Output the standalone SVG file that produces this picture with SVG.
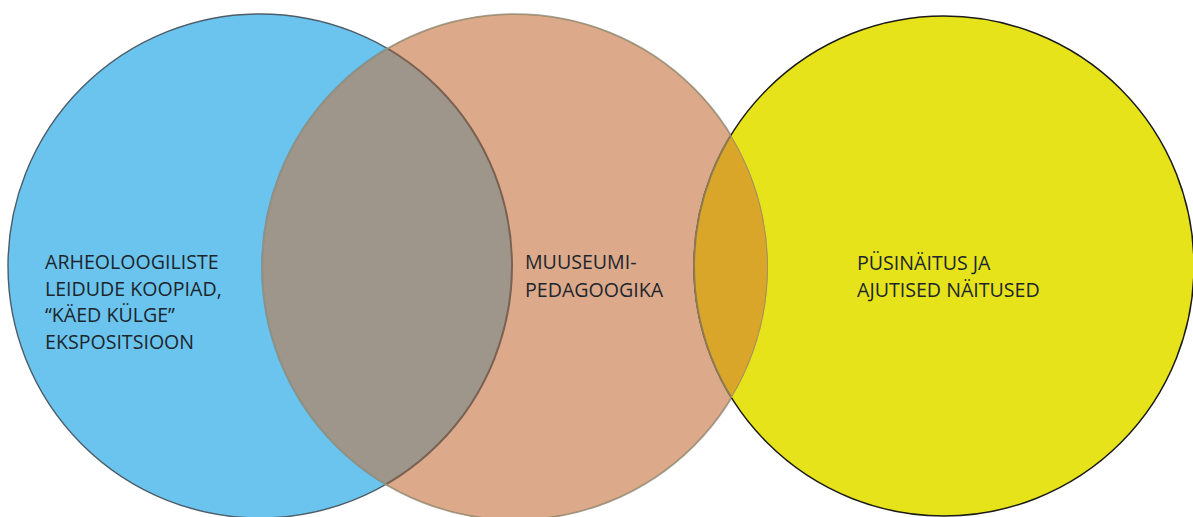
<svg xmlns="http://www.w3.org/2000/svg" width="1193" height="517" viewBox="0 0 1193 517">
<style>
text{font-family:"Open Sans","Liberation Sans",sans-serif;font-size:19.6px;fill:#1c262c}
</style>
<defs>
<clipPath id="cBlue"><circle cx="260" cy="266" r="252"/></clipPath>
<clipPath id="cOrange"><circle cx="515" cy="267" r="253"/></clipPath>
</defs>
<rect width="1193" height="517" fill="#ffffff"/>
<g id="blue">
<circle cx="260" cy="266" r="252" fill="#6BC4EE" stroke="#4C5C68" stroke-width="1.4"/>
<text x="45" y="269">ARHEOLOOGILISTE</text>
<text x="45" y="296">LEIDUDE KOOPIAD,</text>
<text x="45" y="322">“KÄED KÜLGE”</text>
<text x="45" y="349">EKSPOSITSIOON</text>
</g>
<g id="orange">
<circle cx="515" cy="267" r="253" fill="#DDA98B" stroke="#A9A19B" stroke-width="1.5"/>
</g>
<g id="overlap-blue-orange">
<circle cx="515" cy="267" r="253" fill="#9E958B" clip-path="url(#cBlue)"/>
<circle cx="515" cy="267" r="253" fill="none" stroke="#7896A6" stroke-width="2" clip-path="url(#cBlue)"/>
<circle cx="260" cy="266" r="252" fill="none" stroke="#7A6252" stroke-width="2" clip-path="url(#cOrange)"/>
</g>
<g id="orange-label">
<text x="525" y="269">MUUSEUMI-</text>
<text x="525" y="297">PEDAGOOGIKA</text>
</g>
<g id="yellow">
<circle cx="944" cy="266" r="250" fill="#E6E31A" stroke="#1A1A1A" stroke-width="1.5"/>
<text x="857" y="270">PÜSINÄITUS JA</text>
<text x="857" y="297">AJUTISED NÄITUSED</text>
</g>
<g id="overlap-orange-yellow">
<circle cx="944" cy="266" r="250" fill="#D9A62A" clip-path="url(#cOrange)"/>
<circle cx="944" cy="266" r="250" fill="none" stroke="#8C7A52" stroke-width="2" clip-path="url(#cOrange)"/>
<circle cx="515" cy="267" r="253" fill="none" stroke="#A08F6A" stroke-width="2" clip-path="url(#cOrange)"/>
</g>
<g id="connectors"></g>
</svg>
